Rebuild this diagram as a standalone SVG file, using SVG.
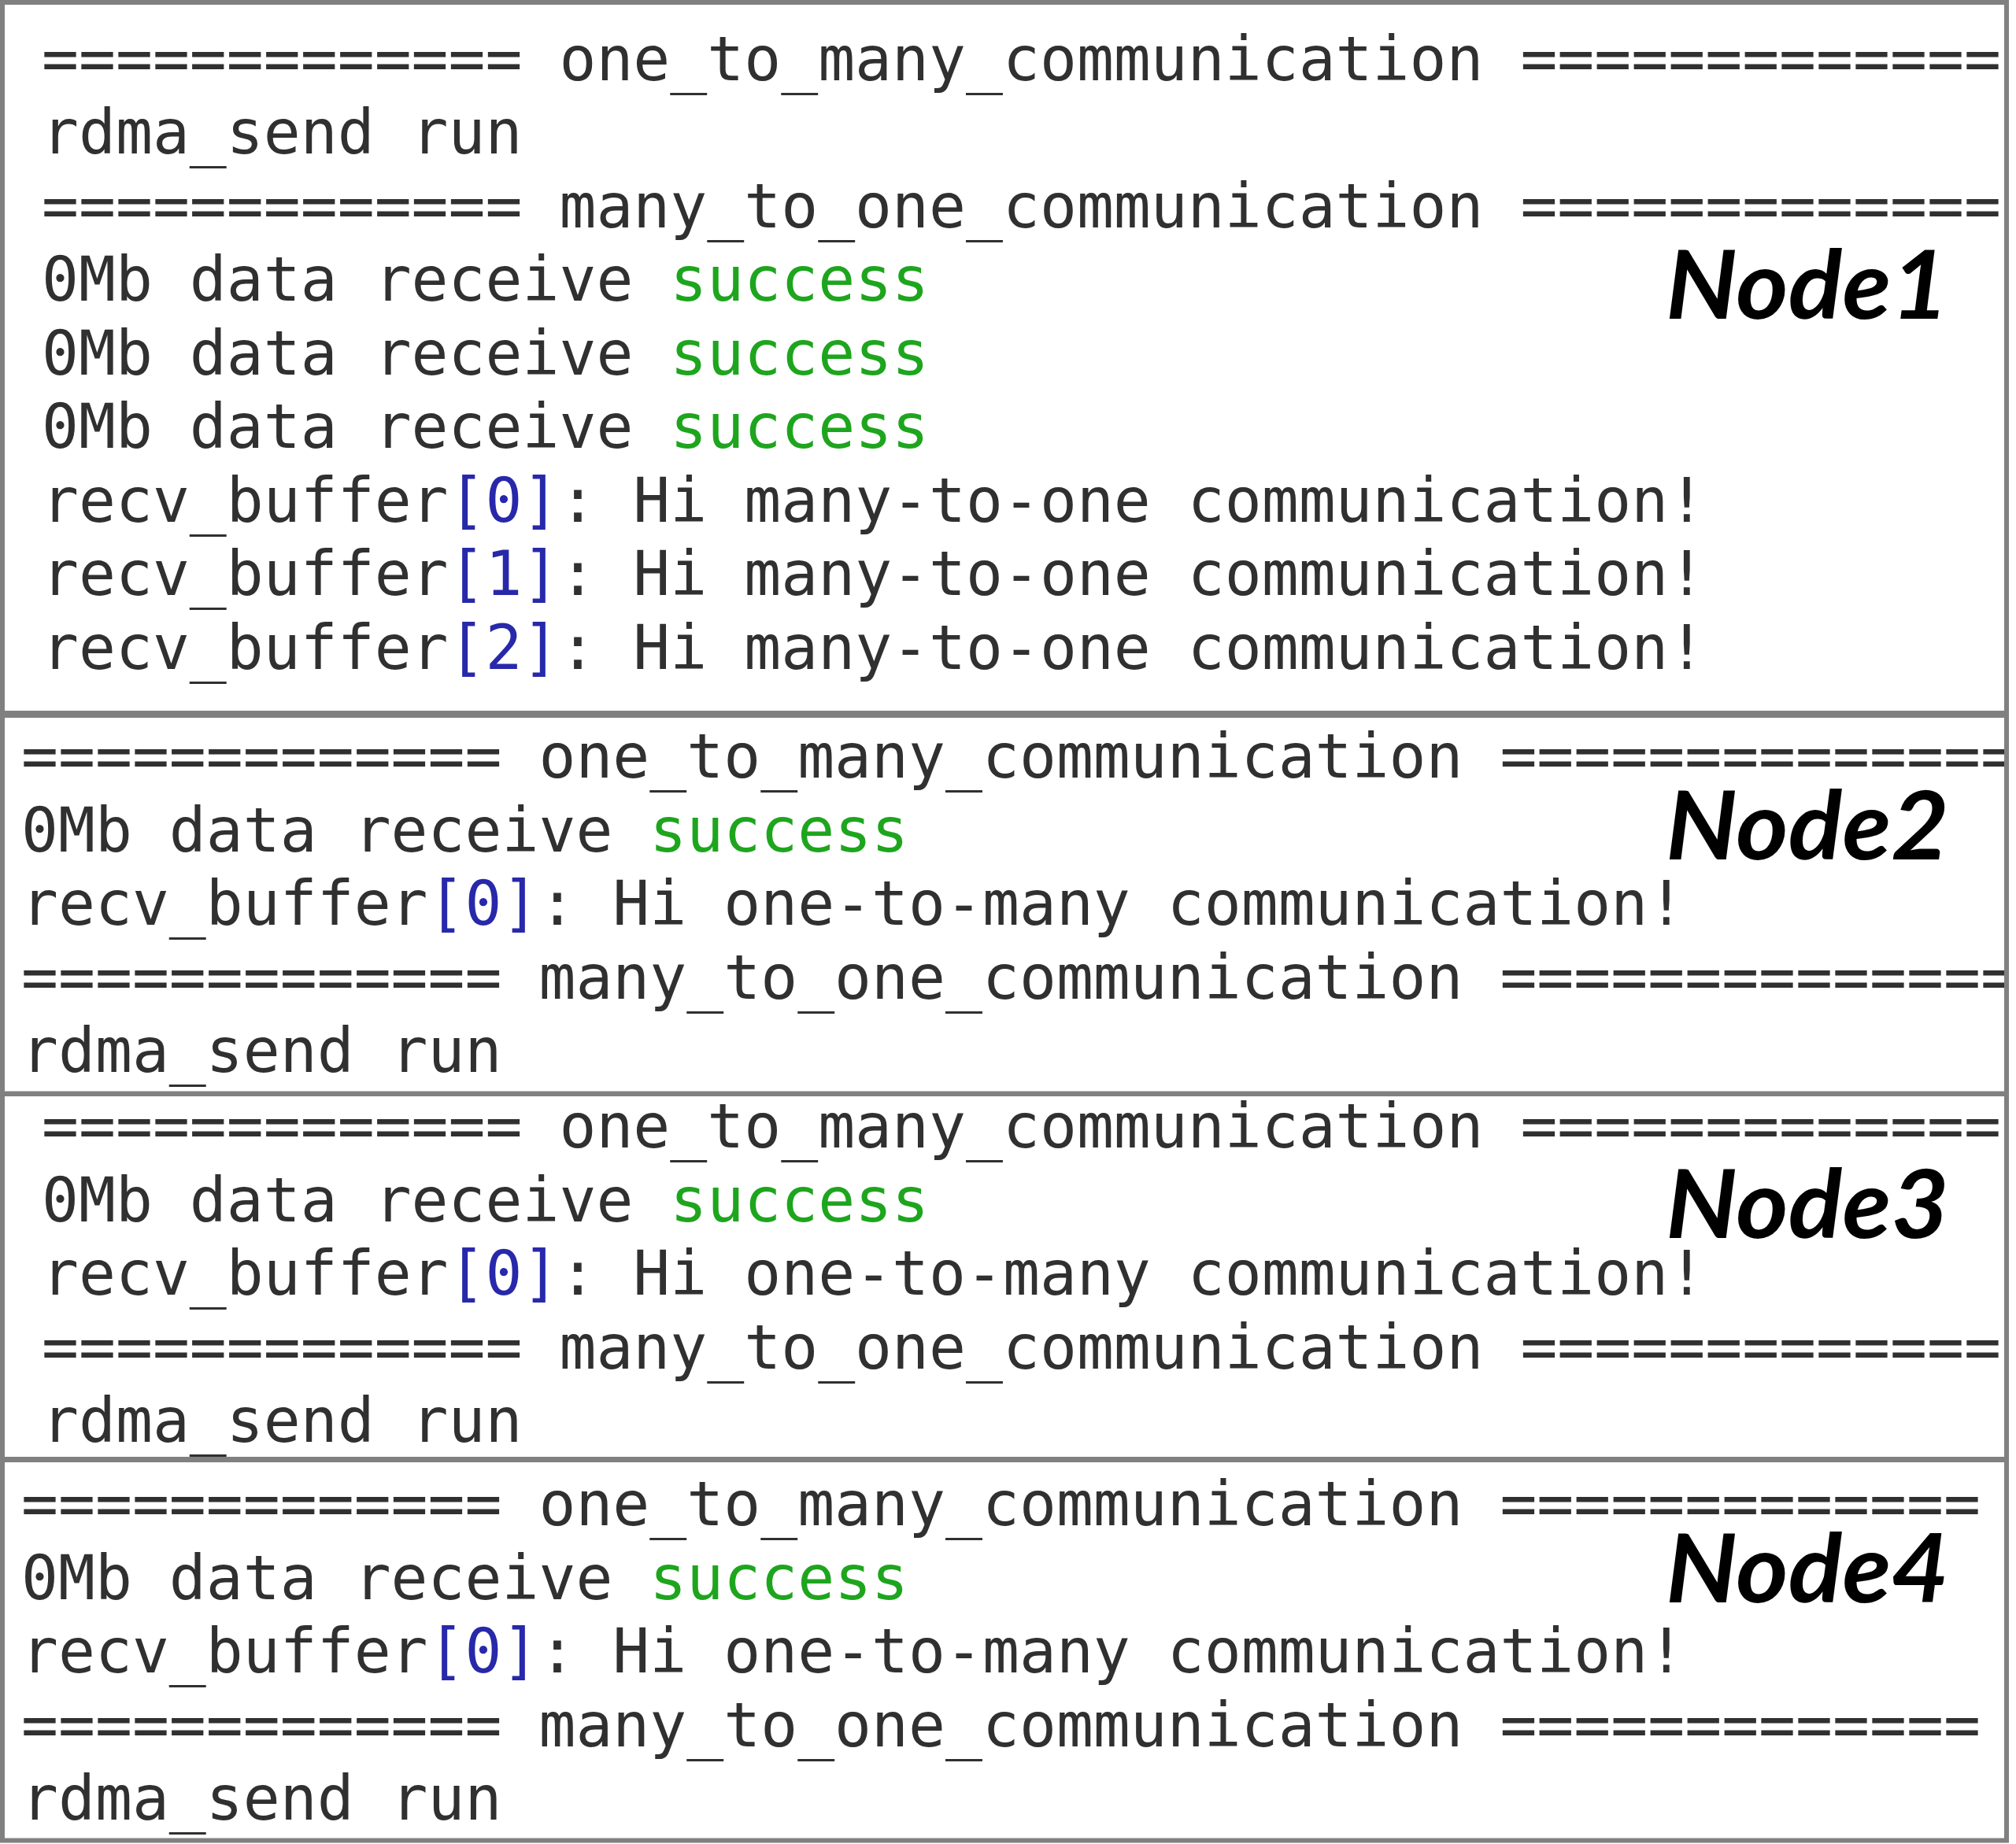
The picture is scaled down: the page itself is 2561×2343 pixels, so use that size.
<svg xmlns="http://www.w3.org/2000/svg" width="2561" height="2343" viewBox="0 0 2561 2343">
<style>
.box{fill:#ffffff;stroke:#808080;stroke-width:6}
.t{font-family:"DejaVu Sans Mono","Liberation Mono",monospace;font-size:78px;fill:#303030;white-space:pre}
.g{fill:#1ea51e}
.b{fill:#2828aa}
.lbl{font-family:Lato,"Open Sans",sans-serif;font-weight:bold;font-style:italic;font-size:121px;fill:#000000}
</style>
<defs>
<clipPath id="clipR"><rect x="0" y="0" width="2546" height="2343"/></clipPath>
</defs>
<rect x="0" y="0" width="2561" height="2343" fill="#ffffff"/>
<g id="node1">
<rect class="box" x="3" y="3" width="2546" height="903"/>
<text class="t" x="53" y="101.5" xml:space="preserve">============= one_to_many_communication =============</text>
<text class="t" x="53" y="195">rdma_send run</text>
<text class="t" x="53" y="288.5" xml:space="preserve">============= many_to_one_communication =============</text>
<text class="t" x="53" y="382" xml:space="preserve">0Mb data receive <tspan class="g">success</tspan></text>
<text class="t" x="53" y="475.5" xml:space="preserve">0Mb data receive <tspan class="g">success</tspan></text>
<text class="t" x="53" y="569" xml:space="preserve">0Mb data receive <tspan class="g">success</tspan></text>
<text class="t" x="53" y="662.5" xml:space="preserve">recv_buffer<tspan class="b">[0]</tspan>: Hi many-to-one communication!</text>
<text class="t" x="53" y="756" xml:space="preserve">recv_buffer<tspan class="b">[1]</tspan>: Hi many-to-one communication!</text>
<text class="t" x="53" y="849.5" xml:space="preserve">recv_buffer<tspan class="b">[2]</tspan>: Hi many-to-one communication!</text>
<text class="lbl" x="2116" y="405" textLength="360" lengthAdjust="spacingAndGlyphs">Node1</text>
</g>
<g id="node2">
<g clip-path="url(#clipR)">
<text class="t" x="27" y="988" xml:space="preserve">============= one_to_many_communication ==============</text>
<text class="t" x="27" y="1268.5" xml:space="preserve">============= many_to_one_communication ==============</text>
</g>
<rect class="box" x="3" y="909" width="2546" height="480.5" style="fill:none"/>
<text class="t" x="27" y="1081.5" xml:space="preserve">0Mb data receive <tspan class="g">success</tspan></text>
<text class="t" x="27" y="1175" xml:space="preserve">recv_buffer<tspan class="b">[0]</tspan>: Hi one-to-many communication!</text>
<text class="t" x="27" y="1362">rdma_send run</text>
<text class="lbl" x="2116" y="1092" textLength="360" lengthAdjust="spacingAndGlyphs">Node2</text>
</g>
<g id="node3">
<rect class="box" x="3" y="1390" width="2546" height="464"/>
<text class="t" x="53" y="1458" xml:space="preserve">============= one_to_many_communication =============</text>
<text class="t" x="53" y="1551.5" xml:space="preserve">0Mb data receive <tspan class="g">success</tspan></text>
<text class="t" x="53" y="1645" xml:space="preserve">recv_buffer<tspan class="b">[0]</tspan>: Hi one-to-many communication!</text>
<text class="t" x="53" y="1738.5" xml:space="preserve">============= many_to_one_communication =============</text>
<text class="t" x="53" y="1832">rdma_send run</text>
<text class="lbl" x="2116" y="1573" textLength="360" lengthAdjust="spacingAndGlyphs">Node3</text>
</g>
<g id="node4">
<rect class="box" x="3" y="1855" width="2546" height="483.5"/>
<text class="t" x="27" y="1938" xml:space="preserve">============= one_to_many_communication =============</text>
<text class="t" x="27" y="2031.5" xml:space="preserve">0Mb data receive <tspan class="g">success</tspan></text>
<text class="t" x="27" y="2125" xml:space="preserve">recv_buffer<tspan class="b">[0]</tspan>: Hi one-to-many communication!</text>
<text class="t" x="27" y="2218.5" xml:space="preserve">============= many_to_one_communication =============</text>
<text class="t" x="27" y="2312">rdma_send run</text>
<text class="lbl" x="2116" y="2036" textLength="360" lengthAdjust="spacingAndGlyphs">Node4</text>
</g>
<g id="connectors"/>
</svg>
